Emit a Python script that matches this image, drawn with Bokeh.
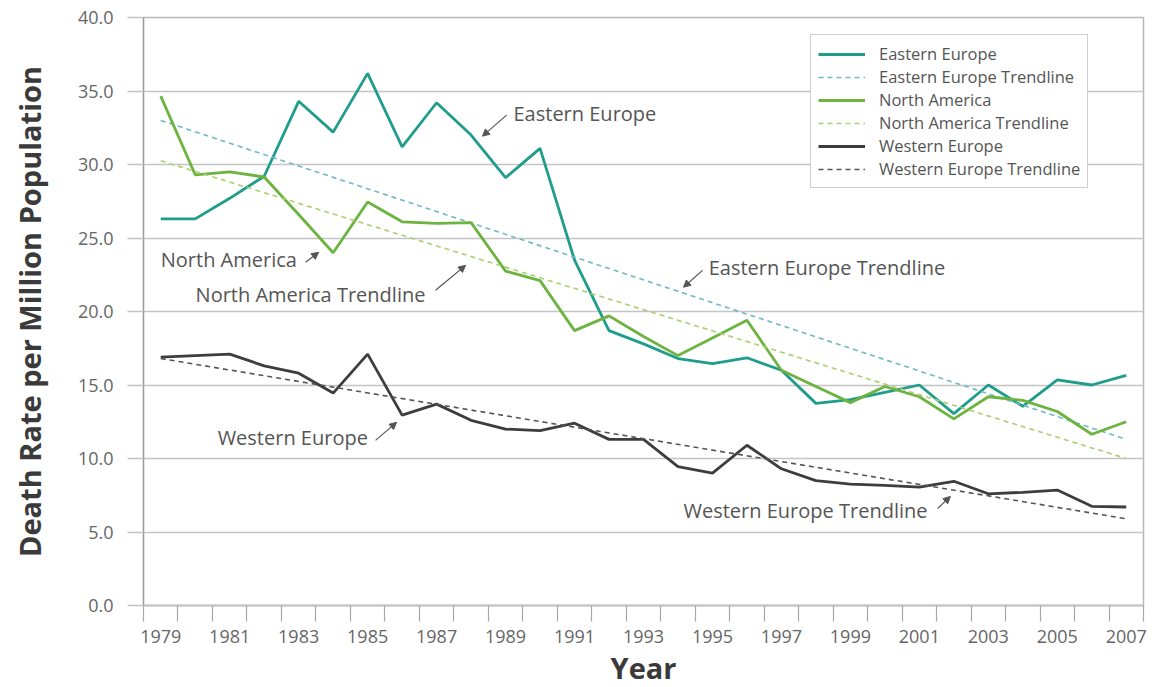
from bokeh.plotting import figure
from bokeh.models import (FixedTicker, NumeralTickFormatter, Legend, LegendItem,
                          Label, Arrow, NormalHead, Range1d)
from bokeh.embed import file_html
from bokeh.resources import INLINE

# ---------------- data ----------------
years = list(range(1979, 2008))

eastern_europe = [26.3, 26.3, 27.7, 29.2, 34.3, 32.2, 36.2, 31.2, 34.2, 32.0,
                  29.1, 31.1, 23.5, 18.7, 17.8, 16.8, 16.45, 16.85, 16.0, 13.75,
                  14.0, 14.5, 15.0, 13.05, 15.0, 13.55, 15.35, 15.0, 15.65]

north_america = [34.65, 29.3, 29.5, 29.15, 26.6, 24.0, 27.45, 26.1, 26.0, 26.05,
                 22.75, 22.1, 18.7, 19.7, 18.3, 17.0, 18.2, 19.4, 16.0, 14.9,
                 13.8, 14.9, 14.2, 12.7, 14.2, 13.95, 13.2, 11.65, 12.5]

western_europe = [16.9, 17.0, 17.1, 16.3, 15.8, 14.45, 17.1, 12.95, 13.7, 12.6,
                  12.0, 11.9, 12.4, 11.3, 11.3, 9.45, 9.0, 10.9, 9.3, 8.5,
                  8.25, 8.17, 8.05, 8.45, 7.6, 7.7, 7.85, 6.75, 6.7]

trend_years = [1979, 2007]
ee_trend = [33.0, 11.3]
na_trend = [30.25, 10.0]
we_trend = [16.8, 5.9]

series_names = ["Eastern Europe", "Eastern Europe Trendline", "North America",
                "North America Trendline", "Western Europe", "Western Europe Trendline"]

y_ticks = [0, 5, 10, 15, 20, 25, 30, 35, 40]
x_label_years = list(range(1979, 2008, 2))
x_boundaries = [y - 0.5 for y in range(1979, 2009)]

# annotation texts and anchor positions (year, value)
ann_texts = ["Eastern Europe", "North America", "North America Trendline",
             "Eastern Europe Trendline", "Western Europe", "Western Europe Trendline"]
ann_x = [1989.23, 1979.0, 1980.01, 1994.89, 1980.65, 1994.16]
ann_y = [33.49, 23.55, 21.17, 23.01, 11.44, 6.47]
arrow_x0 = [1989.03, 1983.2, 1986.97, 1994.71, 1985.23, 2001.53]
arrow_y0 = [33.36, 23.35, 21.44, 22.80, 11.23, 6.60]
arrow_x1 = [1988.33, 1983.58, 1987.84, 1994.16, 1985.84, 2001.9]
arrow_y1 = [31.93, 24.03, 23.14, 21.65, 12.46, 7.42]

# ---------------- styles ----------------
FONT = "Open Sans"
C_EE = "#1f9d8c"
C_EE_T = "#6db9c6"
C_NA = "#6cb33f"
C_NA_T = "#a9cf6e"
C_WE = "#3d3d3d"
C_WE_T = "#555555"
TXT = "#555555"
GRID = "#c4c4c4"

p = figure(frame_width=1000, frame_height=588, output_backend="svg", toolbar_location=None,
           x_range=Range1d(1978.5, 2007.5), y_range=Range1d(0, 40),
           min_border_left=143, min_border_right=8, min_border_top=17,
           min_border_bottom=82)

p.background_fill_color = "white"
p.border_fill_color = "white"
p.outline_line_color = "#b8b8b8"
p.outline_line_width = 1.5

# grid
p.xgrid.visible = False
p.ygrid.grid_line_color = GRID
p.ygrid.grid_line_width = 1.5
p.ygrid.ticker = FixedTicker(ticks=y_ticks)

# y axis
p.yaxis.ticker = FixedTicker(ticks=y_ticks)
p.yaxis.formatter = NumeralTickFormatter(format="0.0")
p.yaxis.major_tick_out = 16
p.yaxis.major_tick_in = 0
p.yaxis.minor_tick_out = 0
p.yaxis.minor_tick_in = 0
p.yaxis.major_tick_line_color = GRID
p.yaxis.major_tick_line_width = 1.5
p.yaxis.axis_line_color = "#9a9a9a"
p.yaxis.axis_line_width = 1.2
p.yaxis.major_label_standoff = 14
p.yaxis.major_label_text_font = FONT
p.yaxis.major_label_text_font_size = "18px"
p.yaxis.major_label_text_color = "#666666"
p.yaxis.axis_label = "Death Rate per Million Population"
p.yaxis.axis_label_text_font = FONT
p.yaxis.axis_label_text_font_style = "bold"
p.yaxis.axis_label_text_font_size = "29px"
p.yaxis.axis_label_text_color = "#3a3a3a"
p.yaxis.axis_label_standoff = 26

# x axis
p.xaxis.ticker = FixedTicker(ticks=x_label_years, minor_ticks=x_boundaries)
p.xaxis.major_tick_out = 0
p.xaxis.major_tick_in = 0
p.xaxis.minor_tick_out = 16
p.xaxis.minor_tick_in = 0
p.xaxis.minor_tick_line_color = "#a8a8a8"
p.xaxis.minor_tick_line_width = 1.2
p.xaxis.axis_line_color = GRID
p.xaxis.axis_line_width = 2
p.xaxis.major_label_standoff = 8
p.xaxis.major_label_text_font = FONT
p.xaxis.major_label_text_font_size = "18px"
p.xaxis.major_label_text_color = "#666666"
p.xaxis.axis_label = "Year"
p.xaxis.axis_label_text_font = FONT
p.xaxis.axis_label_text_font_style = "bold"
p.xaxis.axis_label_text_font_size = "29px"
p.xaxis.axis_label_text_color = "#3a3a3a"
p.xaxis.axis_label_standoff = 2

# lines
r_ee = p.line(years, eastern_europe, line_color=C_EE, line_width=2.8)
r_ee_t = p.line(trend_years, ee_trend, line_color=C_EE_T, line_width=1.6, line_dash="5 4")
r_na = p.line(years, north_america, line_color=C_NA, line_width=2.8)
r_na_t = p.line(trend_years, na_trend, line_color=C_NA_T, line_width=1.6, line_dash="5 4")
r_we = p.line(years, western_europe, line_color=C_WE, line_width=2.8)
r_we_t = p.line(trend_years, we_trend, line_color=C_WE_T, line_width=1.6, line_dash="5 4")

renderers = [r_ee, r_ee_t, r_na, r_na_t, r_we, r_we_t]
legend = Legend(items=[LegendItem(label=n, renderers=[r]) for n, r in zip(series_names, renderers)],
                location=(667, 417))
legend.label_text_font = FONT
legend.label_text_font_size = "16.5px"
legend.label_text_color = TXT
legend.glyph_width = 47
legend.glyph_height = 20
legend.label_height = 20
legend.spacing = 0
legend.padding = 7
legend.margin = 0
legend.label_standoff = 14
legend.border_line_color = "#a0a0a0"
legend.border_line_width = 1.2
legend.background_fill_color = "white"
legend.background_fill_alpha = 1.0
p.add_layout(legend)

# annotations
for t, x, y in zip(ann_texts, ann_x, ann_y):
    p.add_layout(Label(x=x, y=y, text=t, text_font=FONT, text_font_size="20px",
                       text_color=TXT, text_align="left", text_baseline="middle"))
for x0, y0, x1, y1 in zip(arrow_x0, arrow_y0, arrow_x1, arrow_y1):
    p.add_layout(Arrow(x_start=x0, y_start=y0, x_end=x1, y_end=y1,
                       line_color="#555555", line_width=1.2,
                       end=NormalHead(size=7, fill_color="#555555", line_color="#555555")))

open("out.html", "w").write(file_html(p, INLINE))
